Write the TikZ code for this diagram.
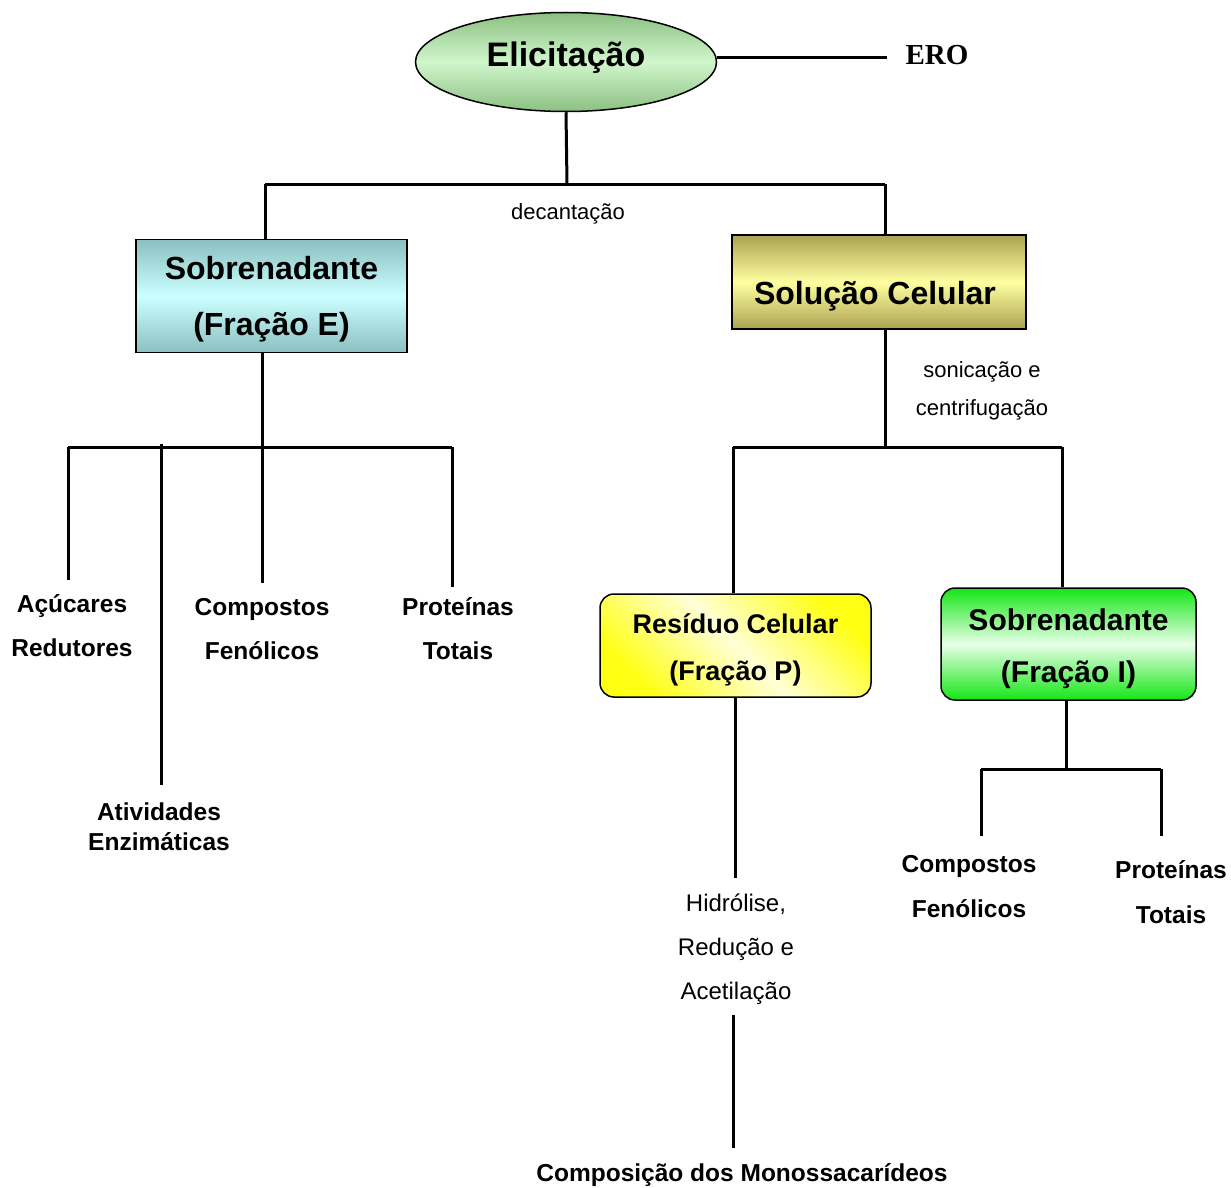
\documentclass[tikz,border=0pt]{standalone}
\usepackage{fontspec}
\setmainfont{Liberation Sans}
\newfontfamily\timesf{Liberation Serif}
\usetikzlibrary{shapes.geometric,shadings}
\definecolor{ellD}{RGB}{140,192,130}
\definecolor{ellL}{RGB}{208,246,204}
\definecolor{tealD}{RGB}{140,192,192}
\definecolor{tealL}{RGB}{204,255,255}
\definecolor{olvD}{RGB}{172,162,82}
\definecolor{olvL}{RGB}{255,255,160}
\definecolor{ylwD}{RGB}{255,255,20}
\definecolor{ylwL}{RGB}{255,255,215}
\definecolor{grnD}{RGB}{20,230,20}
\definecolor{grnL}{RGB}{232,255,232}
\begin{document}
\begin{tikzpicture}[x=1pt,y=-1pt,line width=3pt,
  box/.style={draw,line width=1.5pt,inner sep=0pt,align=center},
  lbl/.style={font=\fontsize{24.5}{44}\selectfont\bfseries,align=center,inner sep=0pt},
  note/.style={font=\fontsize{22}{38}\selectfont,align=center,inner sep=0pt}]
\useasboundingbox (0,0) rectangle (1231,1188);
% main nodes
\node[box,ellipse,minimum width=301pt,minimum height=99pt,
  top color=ellD,bottom color=ellD,middle color=ellL] (elic) at (566,62) {};
\node[inner sep=0pt,font=\fontsize{34}{40}\selectfont\bfseries] (elict) at (566,58) {Elicitação};
\node[inner sep=0pt,font=\fontsize{29}{34}\selectfont\timesf\bfseries] (ero) at (937,55) {ERO};
\node[box,minimum width=271pt,minimum height=113pt,
  top color=tealD,bottom color=tealD,middle color=tealL] (sobE) at (271.5,296) {};
\node[inner sep=0pt,align=center,font=\fontsize{32}{56}\selectfont\bfseries] (sobEt) at (271.5,299) {Sobrenadante\\(Fração E)};
\node[box,minimum width=294pt,minimum height=94pt,
  top color=olvD,bottom color=olvD,middle color=olvL] (sol) at (879,282) {};
\node[inner sep=0pt,font=\fontsize{32}{40}\selectfont\bfseries] (solt) at (875,296) {Solução Celular};
\node[box,rounded corners=14pt,minimum width=271pt,minimum height=103pt,
  top color=ylwD,bottom color=ylwD,middle color=ylwL,shading angle=-45] (res) at (735.5,645.5) {};
\node[inner sep=0pt,align=center,font=\fontsize{27}{47}\selectfont\bfseries] (rest) at (735.5,650) {Resíduo Celular\\(Fração P)};
\node[box,rounded corners=14pt,minimum width=255pt,minimum height=112pt,
  top color=grnD,bottom color=grnD,middle color=grnL] (sobI) at (1068.5,644) {};
\node[inner sep=0pt,align=center,font=\fontsize{30}{52}\selectfont\bfseries] (sobIt) at (1068.5,649) {Sobrenadante\\(Fração I)};
% labels
\node[note] (dec) at (568,214) {decantação};
\node[note] (son) at (982,391) {sonicação e\\centrifugação};
\node[lbl] (acu) at (72,626) {Açúcares\\Redutores};
\node[lbl] (cfE) at (262,629.5) {Compostos\\Fenólicos};
\node[lbl] (ptE) at (458,628.5) {Proteínas\\Totais};
\node[lbl,font=\fontsize{24.5}{30}\selectfont\bfseries] (ati) at (159,827) {Atividades\\Enzimáticas};
\node[note,font=\fontsize{24}{44}\selectfont] (hid) at (736,949) {Hidrólise,\\Redução e\\Acetilação};
\node[lbl] (mono) at (742,1175) {Composição dos Monossacarídeos};
\node[lbl,font=\fontsize{24.5}{45}\selectfont\bfseries] (cfI) at (969,886.5) {Compostos\\Fenólicos};
\node[lbl,font=\fontsize{24.5}{45}\selectfont\bfseries] (ptI) at (1171,892.5) {Proteínas\\Totais};
% coordinates
\coordinate (eroA) at (717,58);
\coordinate (eroL) at (887,58);
\coordinate (hL) at (265,184);
\coordinate (hR) at (885,184);
\coordinate (hM) at (567,184);
\coordinate (eM) at (262,447);
\coordinate (e1) at (68,447);
\coordinate (e1b) at (68,580);
\coordinate (e2) at (161,444);
\coordinate (e2b) at (161,785);
\coordinate (e3b) at (262,583);
\coordinate (e4) at (452,447);
\coordinate (e4b) at (452,587);
\coordinate (sM) at (885,449);
\coordinate (s1) at (733,447);
\coordinate (s2) at (1062,447);
\coordinate (pA) at (735,878);
\coordinate (pB) at (733,1015);
\coordinate (pC) at (733,1148);
\coordinate (iM) at (1066,769);
\coordinate (i1) at (981,769);
\coordinate (i1b) at (981,836);
\coordinate (i2) at (1161,769);
\coordinate (i2b) at (1161,836);
% connectors
\draw (eroA) -- (eroL);
\draw (elic.south) -- (hM);
\draw (hL) -- (hR);
\draw (hL) -- (hL |- sobE.north);
\draw (hR) -- (hR |- sol.north);
\draw (sobE.south -| eM) -- (eM);
\draw (e1) -- (e4);
\draw (e1) -- (e1b);
\draw (e2) -- (e2b);
\draw (eM) -- (e3b);
\draw (e4) -- (e4b);
\draw (sol.south -| sM) -- (sM);
\draw (s1) -- (s2);
\draw (s1) -- (s1 |- res.north);
\draw (s2) -- (s2 |- sobI.north);
\draw (res.south -| pA) -- (pA);
\draw (pB) -- (pC);
\draw (sobI.south -| iM) -- (iM);
\draw (i1) -- (i2);
\draw (i1) -- (i1b);
\draw (i2) -- (i2b);
\end{tikzpicture}
\end{document}
